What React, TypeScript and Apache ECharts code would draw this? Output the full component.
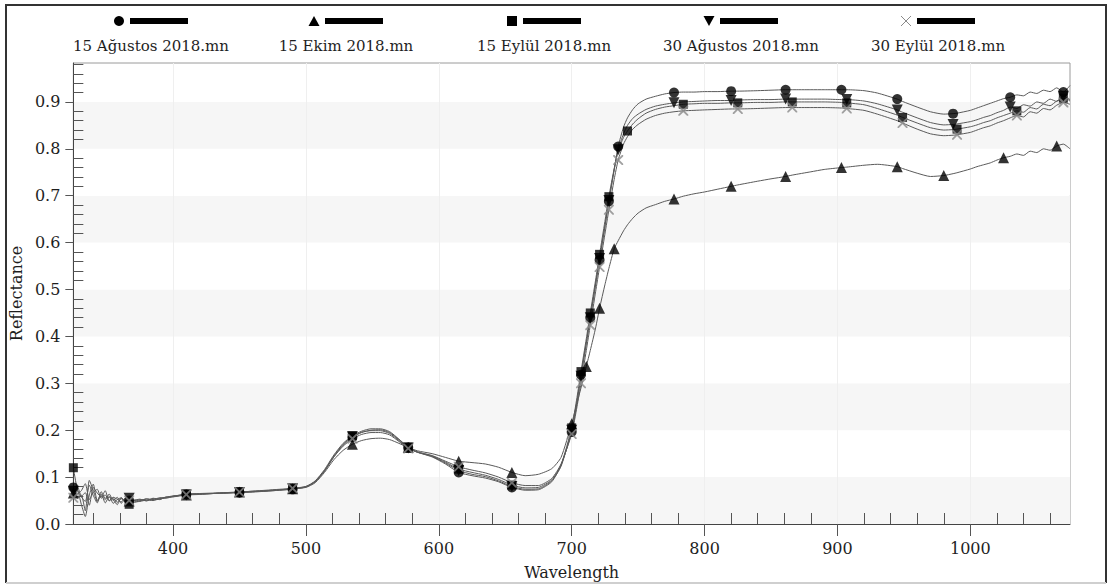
import React, { useEffect, useRef } from 'react';
import * as echarts from 'echarts';

// Wavelength grid (nm) shared by all spectra
const WAVELENGTHS = [
  325, 328, 331, 334, 337, 340, 343, 346, 349, 352, 355, 358, 361, 364, 367, 370,
  375, 380, 385, 390, 395, 400,
  410, 420, 430, 440, 450, 460, 470, 480, 490,
  500, 507, 514, 521, 528, 535, 542, 549, 556, 563, 570, 577, 584,
  595, 605, 615, 625, 635, 645, 655, 665, 675, 685,
  692, 700, 704, 707, 711, 714, 718, 721, 725, 728, 732, 735, 739, 742, 746, 750, 756,
  763, 770, 777, 784, 792, 800, 810, 820, 825, 840, 850, 861, 866, 880, 890, 903, 907, 920, 930, 945, 949, 960, 970, 980, 987, 990,
  1000, 1005, 1010, 1015, 1020, 1025, 1030, 1035, 1040, 1045, 1050, 1055, 1060, 1065, 1070, 1075,
];

const SERIES_NAMES = [
  '15 Ağustos 2018.mn',
  '15 Ekim 2018.mn',
  '15 Eylül 2018.mn',
  '30 Ağustos 2018.mn',
  '30 Eylül 2018.mn',
];

// Reflectance per wavelength
const AUG15 = [
  0.078, 0.064, 0.071, 0.086, 0.052, 0.067, 0.074, 0.055, 0.062, 0.05, 0.057, 0.053, 0.047, 0.055, 0.05, 0.051,
  0.05, 0.053, 0.051, 0.055, 0.057, 0.058,
  0.063, 0.064, 0.065, 0.066, 0.067, 0.069, 0.07, 0.072, 0.074,
  0.079, 0.09, 0.113, 0.143, 0.168, 0.185, 0.195, 0.2, 0.201, 0.195, 0.18, 0.163, 0.153,
  0.143, 0.128, 0.11, 0.103, 0.098, 0.09, 0.078, 0.072, 0.073, 0.09,
  0.125, 0.196, 0.258, 0.318, 0.385, 0.44, 0.51, 0.563, 0.633, 0.688, 0.756, 0.805, 0.846, 0.866, 0.884, 0.896, 0.906,
  0.912, 0.917, 0.92, 0.921, 0.921, 0.922, 0.922, 0.923, 0.923, 0.924, 0.925, 0.926, 0.926, 0.926, 0.926, 0.926, 0.926, 0.924, 0.919, 0.906, 0.901, 0.889, 0.879, 0.874, 0.875, 0.876,
  0.882, 0.887, 0.892, 0.897, 0.902, 0.907, 0.91, 0.915, 0.913, 0.921, 0.918, 0.925, 0.922, 0.93, 0.921, 0.935,
];

const OCT15 = [
  0.066, 0.079, 0.058, 0.048, 0.083, 0.061, 0.045, 0.069, 0.055, 0.058, 0.044, 0.052, 0.056, 0.047, 0.049, 0.05,
  0.052, 0.05, 0.054, 0.053, 0.057, 0.06,
  0.062, 0.063, 0.065, 0.066, 0.068, 0.069, 0.071, 0.073, 0.075,
  0.078, 0.088, 0.11, 0.137, 0.157, 0.17, 0.178, 0.182, 0.183, 0.18, 0.172, 0.163, 0.156,
  0.15, 0.142, 0.134, 0.131, 0.128, 0.121, 0.11, 0.103, 0.106, 0.118,
  0.142, 0.214, 0.258, 0.29, 0.336, 0.37, 0.418, 0.46, 0.51, 0.545, 0.587, 0.604, 0.625, 0.638, 0.652, 0.663, 0.674,
  0.681, 0.688, 0.693, 0.699, 0.704, 0.708, 0.714, 0.72, 0.723, 0.731, 0.736, 0.741, 0.744, 0.751, 0.756, 0.76, 0.761, 0.765, 0.767, 0.762, 0.758, 0.748, 0.741, 0.743, 0.747, 0.749,
  0.757, 0.762, 0.766, 0.77, 0.776, 0.781, 0.784, 0.789, 0.786, 0.795, 0.792, 0.8, 0.797, 0.806, 0.81, 0.8,
];

const SEP15 = [
  0.12, 0.074, 0.059, 0.067, 0.04, 0.078, 0.066, 0.058, 0.071, 0.049, 0.056, 0.046, 0.054, 0.049, 0.042, 0.047,
  0.048, 0.051, 0.05, 0.054, 0.056, 0.059,
  0.064, 0.065, 0.066, 0.067, 0.068, 0.07, 0.071, 0.073, 0.075,
  0.08, 0.092, 0.116, 0.147, 0.172, 0.188, 0.198, 0.203, 0.203, 0.197, 0.181, 0.164, 0.154,
  0.145, 0.132, 0.117, 0.11, 0.104, 0.095, 0.083, 0.077, 0.078, 0.094,
  0.126, 0.205, 0.27, 0.325, 0.395, 0.45, 0.52, 0.575, 0.645, 0.698, 0.758, 0.796, 0.824, 0.838, 0.853, 0.864, 0.876,
  0.884, 0.889, 0.892, 0.895, 0.896, 0.897, 0.897, 0.898, 0.898, 0.899, 0.899, 0.9, 0.9, 0.9, 0.9, 0.899, 0.898, 0.894, 0.886, 0.872, 0.867, 0.855, 0.845, 0.84, 0.841, 0.842,
  0.847, 0.851, 0.856, 0.86, 0.866, 0.871, 0.876, 0.881, 0.878, 0.888, 0.885, 0.895, 0.892, 0.902, 0.908, 0.903,
];

const AUG30 = [
  0.07, 0.055, 0.062, 0.028, 0.093, 0.072, 0.048, 0.06, 0.052, 0.064, 0.05, 0.057, 0.044, 0.053, 0.055, 0.05,
  0.053, 0.049, 0.055, 0.052, 0.058, 0.058,
  0.062, 0.064, 0.065, 0.066, 0.067, 0.068, 0.07, 0.072, 0.075,
  0.079, 0.091, 0.114, 0.145, 0.17, 0.186, 0.196, 0.199, 0.199, 0.193, 0.178, 0.162, 0.153,
  0.144, 0.13, 0.114, 0.106, 0.101, 0.092, 0.08, 0.074, 0.075, 0.092,
  0.123, 0.2, 0.262, 0.315, 0.386, 0.44, 0.512, 0.566, 0.636, 0.69, 0.755, 0.798, 0.832, 0.85, 0.865, 0.874, 0.884,
  0.891, 0.895, 0.898, 0.9, 0.901, 0.902, 0.903, 0.903, 0.904, 0.905, 0.905, 0.906, 0.906, 0.906, 0.906, 0.905, 0.905, 0.902, 0.896, 0.883, 0.878, 0.866, 0.856, 0.851, 0.852, 0.853,
  0.858, 0.862, 0.867, 0.871, 0.877, 0.882, 0.889, 0.886, 0.894, 0.891, 0.9, 0.897, 0.906, 0.901, 0.912, 0.905,
];

const SEP30 = [
  0.056, 0.071, 0.042, 0.016, 0.062, 0.085, 0.05, 0.064, 0.045, 0.058, 0.053, 0.041, 0.056, 0.05, 0.05, 0.046,
  0.049, 0.054, 0.052, 0.056, 0.055, 0.059,
  0.063, 0.064, 0.065, 0.067, 0.068, 0.07, 0.072, 0.074, 0.076,
  0.08, 0.09, 0.113, 0.143, 0.166, 0.182, 0.191, 0.195, 0.195, 0.19, 0.176, 0.161, 0.153,
  0.146, 0.134, 0.122, 0.115, 0.109, 0.1, 0.088, 0.082, 0.082, 0.097,
  0.128, 0.192, 0.25, 0.3, 0.37, 0.424, 0.495, 0.548, 0.618, 0.67, 0.735, 0.776, 0.81, 0.826, 0.842, 0.852, 0.863,
  0.871, 0.876, 0.879, 0.881, 0.882, 0.883, 0.884, 0.885, 0.885, 0.886, 0.887, 0.888, 0.888, 0.888, 0.888, 0.887, 0.886, 0.882, 0.874, 0.86, 0.855, 0.842, 0.832, 0.828, 0.829, 0.83,
  0.835, 0.84, 0.845, 0.849, 0.855, 0.86, 0.866, 0.871, 0.868, 0.879, 0.876, 0.886, 0.883, 0.893, 0.899, 0.895,
];

// Wavelengths at which each spectrum carries a marker
const AUG15_MARKS = [325, 367, 410, 450, 490, 535, 577, 615, 655, 700, 707, 714, 721, 728, 735, 777, 820, 861, 903, 945, 987, 1030, 1070];
const OCT15_MARKS = [325, 367, 410, 450, 490, 535, 577, 615, 655, 700, 711, 721, 732, 777, 820, 861, 903, 945, 980, 1025, 1065];
const SEP15_MARKS = [325, 367, 410, 450, 490, 535, 577, 615, 655, 700, 707, 714, 721, 728, 742, 784, 825, 866, 907, 949, 990, 1035, 1070];
const AUG30_MARKS = [325, 367, 410, 450, 490, 535, 577, 615, 655, 700, 707, 714, 721, 728, 735, 777, 820, 861, 907, 945, 987, 1030, 1070];
const SEP30_MARKS = [325, 367, 410, 450, 490, 535, 577, 615, 655, 700, 707, 714, 721, 728, 735, 784, 825, 866, 907, 949, 990, 1035, 1070];

// Axis ticks
const X_TICKS = [400, 500, 600, 700, 800, 900, 1000];
const X_MINOR_TICKS = [
  340, 360, 380, 420, 440, 460, 480, 520, 540, 560, 580, 620, 640, 660, 680,
  720, 740, 760, 780, 820, 840, 860, 880, 920, 940, 960, 980, 1020, 1040, 1060,
];
const Y_TICKS = [0, 0.1, 0.2, 0.3, 0.4, 0.5, 0.6, 0.7, 0.8, 0.9];
const Y_MINOR_TICKS = [
  0.02, 0.04, 0.06, 0.08, 0.12, 0.14, 0.16, 0.18, 0.22, 0.24, 0.26, 0.28,
  0.32, 0.34, 0.36, 0.38, 0.42, 0.44, 0.46, 0.48, 0.52, 0.54, 0.56, 0.58,
  0.62, 0.64, 0.66, 0.68, 0.72, 0.74, 0.76, 0.78, 0.82, 0.84, 0.86, 0.88,
  0.92, 0.94, 0.96, 0.98,
];

const FONT = '"DejaVu Serif", "Liberation Serif", serif';
const TEXT_COLOR = '#1e1e1e';
const LINE_COLOR = '#5a5a5a';
const CROSS_PATH = 'path://M0,0L1.3,0L5,3.7L8.7,0L10,0L10,1.3L6.3,5L10,8.7L10,10L8.7,10L5,6.3L1.3,10L0,10L0,8.7L3.7,5L0,1.3Z';

type MarkerKind = 'circle' | 'triangle' | 'square' | 'down' | 'cross';

const SPECTRA: { name: string; values: number[]; marks: number[]; kind: MarkerKind }[] = [
  { name: SERIES_NAMES[0], values: AUG15, marks: AUG15_MARKS, kind: 'circle' },
  { name: SERIES_NAMES[1], values: OCT15, marks: OCT15_MARKS, kind: 'triangle' },
  { name: SERIES_NAMES[2], values: SEP15, marks: SEP15_MARKS, kind: 'square' },
  { name: SERIES_NAMES[3], values: AUG30, marks: AUG30_MARKS, kind: 'down' },
  { name: SERIES_NAMES[4], values: SEP30, marks: SEP30_MARKS, kind: 'cross' },
];

// Legend layout: horizontal centre of each legend entry
const LEGEND_CENTERS = [151, 346, 544, 741, 938];

function markerStyle(kind: MarkerKind) {
  switch (kind) {
    case 'circle':
      return { symbol: 'circle', symbolSize: 10, symbolRotate: 0, color: '#000' };
    case 'triangle':
      return { symbol: 'triangle', symbolSize: 11, symbolRotate: 0, color: '#000' };
    case 'square':
      return { symbol: 'rect', symbolSize: 9, symbolRotate: 0, color: '#000' };
    case 'down':
      return { symbol: 'triangle', symbolSize: 11, symbolRotate: 180, color: '#000' };
    default:
      return { symbol: CROSS_PATH, symbolSize: 10, symbolRotate: 0, color: '#8a8a8a' };
  }
}

function legendGraphic() {
  const items: any[] = [];
  SPECTRA.forEach((s, i) => {
    const c = LEGEND_CENTERS[i];
    const sx = c - 32;
    const sy = 21;
    if (s.kind === 'circle') {
      items.push({ type: 'circle', shape: { cx: sx, cy: sy, r: 5 }, style: { fill: '#000' } });
    } else if (s.kind === 'triangle') {
      items.push({ type: 'polygon', shape: { points: [[sx - 5.5, sy + 5], [sx + 5.5, sy + 5], [sx, sy - 5]] }, style: { fill: '#000' } });
    } else if (s.kind === 'square') {
      items.push({ type: 'rect', shape: { x: sx - 5, y: sy - 5, width: 10, height: 10 }, style: { fill: '#000' } });
    } else if (s.kind === 'down') {
      items.push({ type: 'polygon', shape: { points: [[sx - 5.5, sy - 5], [sx + 5.5, sy - 5], [sx, sy + 5]] }, style: { fill: '#000' } });
    } else {
      items.push({ type: 'line', shape: { x1: sx - 5, y1: sy - 5, x2: sx + 5, y2: sy + 5 }, style: { stroke: '#8a8a8a', lineWidth: 1 } });
      items.push({ type: 'line', shape: { x1: sx + 5, y1: sy - 5, x2: sx - 5, y2: sy + 5 }, style: { stroke: '#8a8a8a', lineWidth: 1 } });
    }
    items.push({ type: 'rect', shape: { x: c - 21, y: sy - 3, width: 58, height: 6 }, style: { fill: '#000' } });
    items.push({
      type: 'text',
      x: c,
      y: 46,
      style: {
        text: s.name,
        fill: TEXT_COLOR,
        font: `15px ${FONT}`,
        textAlign: 'center',
        textVerticalAlign: 'middle',
      },
    });
  });
  // outer frame of the figure
  items.push({ type: 'polyline', shape: { points: [[6, 583], [6, 5], [1106, 5], [1106, 583]] }, style: { stroke: '#333', lineWidth: 2, fill: null } });
  items.push({ type: 'line', shape: { x1: 6, y1: 583, x2: 1106, y2: 583 }, style: { stroke: '#cfcfcf', lineWidth: 2 } });
  return items;
}

function buildOption(): any {
  const lineSeries = SPECTRA.map((s) => ({
    name: s.name,
    type: 'line',
    data: WAVELENGTHS.map((w, i) => [w, s.values[i]]),
    showSymbol: false,
    symbol: 'none',
    smooth: 0.2,
    lineStyle: { color: LINE_COLOR, width: 1 },
    z: 2,
    silent: true,
  }));
  const markerSeries = SPECTRA.map((s) => {
    const m = markerStyle(s.kind);
    return {
      name: s.name + ' markers',
      type: 'scatter',
      data: s.marks.map((w) => [w, s.values[WAVELENGTHS.indexOf(w)]]),
      symbol: m.symbol,
      symbolSize: m.symbolSize,
      symbolRotate: m.symbolRotate,
      itemStyle: { color: m.color },
      z: 3,
      silent: true,
    };
  });

  const tickLine = { color: '#555', width: 1 };
  const labelStyle = { fontFamily: FONT, fontSize: 16, color: TEXT_COLOR };

  return {
    animation: false,
    backgroundColor: '#fff',
    grid: {
      left: 71,
      right: 43,
      top: 63,
      bottom: 61,
      show: true,
      borderColor: '#9a9a9a',
      borderWidth: 1,
      backgroundColor: '#fff',
    },
    xAxis: [
      {
        type: 'value',
        min: 325,
        max: 1075,
        splitNumber: 8,
        name: 'Wavelength',
        nameLocation: 'middle',
        nameGap: 40,
        nameTextStyle: { fontFamily: FONT, fontSize: 16, color: TEXT_COLOR },
        axisLine: { show: true, onZero: false, lineStyle: { color: '#444', width: 1 } },
        axisTick: { show: true, inside: false, length: 12, customValues: X_TICKS, lineStyle: tickLine },
        axisLabel: {
          customValues: X_TICKS,
          margin: 16,
          formatter: (v: number) => String(Math.round(v)),
          ...labelStyle,
        },
        splitLine: { show: true, lineStyle: { color: '#efefef', width: 1 } },
      },
      {
        type: 'value',
        min: 325,
        max: 1075,
        position: 'bottom',
        axisLine: { show: false },
        axisTick: { show: true, inside: true, length: 11, customValues: X_MINOR_TICKS, lineStyle: tickLine },
        axisLabel: { show: false },
        splitLine: { show: false },
      },
    ],
    yAxis: [
      {
        type: 'value',
        min: 0,
        max: 0.983,
        interval: 0.1,
        name: 'Reflectance',
        nameLocation: 'middle',
        nameGap: 44,
        nameRotate: 90,
        nameTextStyle: { fontFamily: FONT, fontSize: 16, color: TEXT_COLOR },
        axisLine: { show: true, lineStyle: { color: '#444', width: 1 } },
        axisTick: { show: true, inside: false, length: 8, customValues: Y_TICKS, lineStyle: tickLine },
        axisLabel: {
          customValues: Y_TICKS,
          margin: 13,
          formatter: (v: number) => v.toFixed(1),
          ...labelStyle,
        },
        splitLine: { show: false },
        splitArea: { show: true, areaStyle: { color: ['#f6f6f6', '#ffffff'] } },
      },
      {
        type: 'value',
        min: 0,
        max: 0.983,
        position: 'left',
        axisLine: { show: false },
        axisTick: { show: true, inside: true, length: 10, customValues: Y_MINOR_TICKS, lineStyle: tickLine },
        axisLabel: { show: false },
        splitLine: { show: false },
      },
    ],
    graphic: legendGraphic(),
    series: [...lineSeries, ...markerSeries],
  };
}

export default function App() {
  const ref = useRef<HTMLDivElement>(null);
  useEffect(() => {
    if (!ref.current) return;
    const chart = echarts.init(ref.current, null, { renderer: 'svg' });
    chart.setOption(buildOption());
    return () => chart.dispose();
  }, []);
  return (
    <div
      ref={ref}
      style={{ position: 'absolute', left: 0, top: 0, width: 1113, height: 585, background: '#fff' }}
    />
  );
}
